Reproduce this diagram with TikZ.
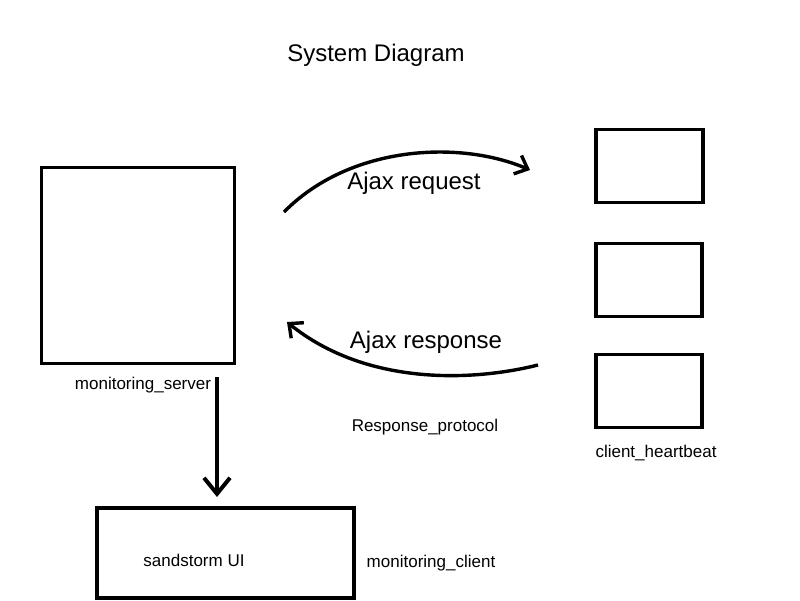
\documentclass[tikz,border=0pt]{standalone}
\usepackage{fontspec}
\setmainfont{Liberation Sans}
\usetikzlibrary{arrows.meta}
\begin{document}
\begin{tikzpicture}[x=1pt,y=-1pt,
  box/.style={draw,line width=3.6pt,inner sep=0pt,anchor=north west},
  big/.style={font=\fontsize{24}{28}\selectfont},
  small/.style={font=\fontsize{17}{20}\selectfont},
  conn/.style={line width=3.4pt,-{Straight Barb[length=11pt,width=20pt,line width=3.4pt]}}]
\useasboundingbox (0,0) rectangle (800,600);
\node[big] (title) at (376,55) {System Diagram};
\node[box,minimum width=193pt,minimum height=196pt] (server) at (39.5,165.5) {};
\node[box,minimum width=107pt,minimum height=73pt] (c1) at (594,127.5) {};
\node[box,minimum width=106pt,minimum height=73pt] (c2) at (594,241.5) {};
\node[box,minimum width=106pt,minimum height=73pt] (c3) at (594,352.5) {};
\node[box,minimum width=257pt,minimum height=90pt] (ui) at (95,506) {};
\node[small] (serverlbl) at (143,385) {monitoring\_server};
\node[small] (proto) at (425,427) {Response\_protocol};
\node[small] (hb) at (656,453) {client\_heartbeat};
\node[small] (uilbl) at (194,560) {sandstorm UI};
\node[small] (clientlbl) at (431,563) {monitoring\_client};
\node[big] (reqlbl) at (414,183) {Ajax request};
\node[big] (resplbl) at (426,342) {Ajax response};
\coordinate (rq1) at (284,212);
\coordinate (rq2) at (530,170);
\coordinate (rs1) at (538,365);
\coordinate (rs2) at (287,322);
\coordinate (d1) at (217,377);
\coordinate (d2) at (217,497);
\draw[conn] (rq1) .. controls (350,145) and (460,140) .. (rq2);
\draw[conn] (rs1) .. controls (470,382) and (365,385) .. (rs2);
\draw[line width=4pt,-{Straight Barb[length=16pt,width=26pt,line width=4pt]}] (d1) -- (d2);
\end{tikzpicture}
\end{document}
